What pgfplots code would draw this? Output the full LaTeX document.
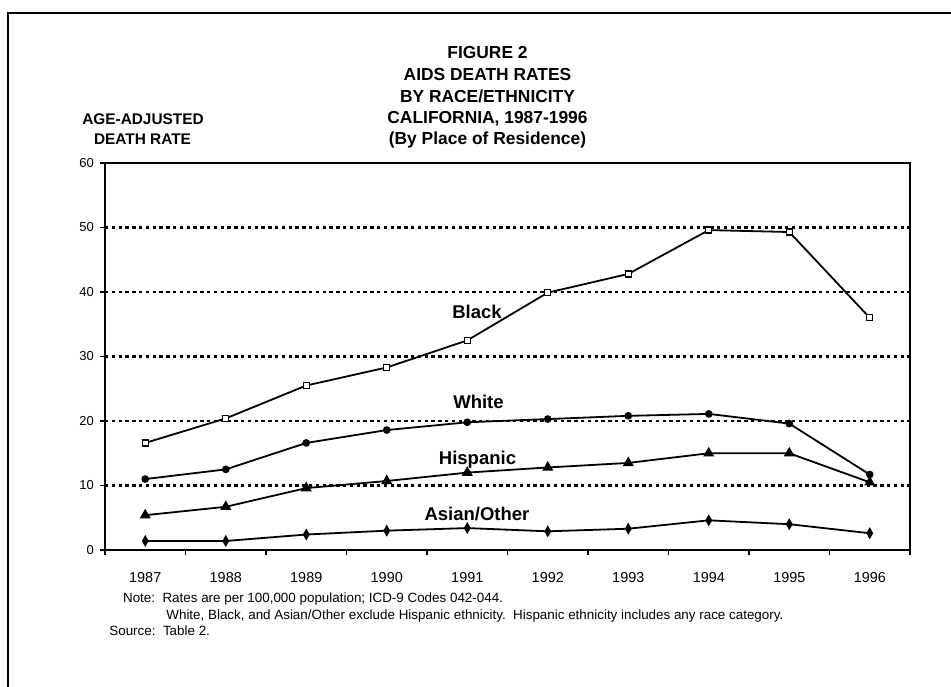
\documentclass[border=0pt]{standalone}
\usepackage{pgfplots}
\pgfplotsset{compat=1.18}
\usepackage{fontspec}
\setmainfont{Liberation Sans}

% age-adjusted AIDS death rates, 1987-1996 (index 0 = 1987)
\pgfplotstableread{
x black white hisp asian
0 16.6 11.0  5.4 1.4
1 20.4 12.5  6.7 1.4
2 25.5 16.6  9.6 2.4
3 28.3 18.6 10.7 3.0
4 32.5 19.8 12.0 3.4
5 39.9 20.3 12.8 2.9
6 42.8 20.8 13.5 3.3
7 49.6 21.1 15.0 4.6
8 49.3 19.6 15.0 4.0
9 36.0 11.7 10.5 2.6
}\rates

\begin{document}
\begin{tikzpicture}[x=1bp,y=1bp]
\useasboundingbox (0,0) rectangle (475.5,343);
% page frame
\draw[line width=1.2bp] (3.9,-2) -- (3.9,336.6) -- (480,336.6);

\begin{axis}[
  at={(52.5bp,68bp)}, anchor=south west,
  scale only axis,
  width=402.5bp, height=193.5bp,
  xmin=-0.5, xmax=9.5,
  ymin=0, ymax=60,
  ytick={0,10,...,60},
  xtick={0,...,9},
  xticklabels={1987,1988,1989,1990,1991,1992,1993,1994,1995,1996},
  minor xtick={-0.5,0.5,...,9.5},
  xtick pos=bottom, ytick pos=left,
  tick align=outside,
  major tick length=2.5bp,
  minor tick length=2.5bp,
  major x tick style={draw=none},
  tick style={black, line width=0.8bp},
  axis line style={line width=1bp},
  ymajorgrids=true,
  grid style={black, line width=1.2bp, dash pattern=on 1.7bp off 1.7bp},
  /pgf/number format/assume math mode=true,
  yticklabel style={font=\fontsize{6.5bp}{8bp}\selectfont, xshift=0.4bp},
  xticklabel style={font=\fontsize{7.2bp}{8bp}\selectfont, yshift=-5bp},
  clip=false,
]
\addplot[black, line width=0.9bp, mark=square*, mark size=1.5bp,
  mark options={fill=white, draw=black, line width=0.6bp}]
  table[x=x, y=black] {\rates};
\addplot[black, line width=0.9bp, mark=*, mark size=1.45bp,
  mark options={fill=black}]
  table[x=x, y=white] {\rates};
\addplot[black, line width=0.9bp, mark=triangle*, mark size=2.3bp,
  mark options={fill=black}]
  table[x=x, y=hisp] {\rates};
\addplot[black, line width=0.9bp, mark=diamond*, mark size=2.1bp,
  mark options={fill=black, xscale=0.75}]
  table[x=x, y=asian] {\rates};
\end{axis}

% series labels
\begin{scope}[every node/.style={anchor=base, inner sep=0pt, font=\fontsize{9.25bp}{11bp}\selectfont\bfseries}]
\node at (238.5,184) {Black};
\node at (239.25,139) {White};
\node at (238.75,111) {Hispanic};
\node at (238.5,83) {Asian/Other};
\end{scope}

% title
\begin{scope}[every node/.style={anchor=base, inner sep=0pt, font=\fontsize{8.7bp}{10bp}\selectfont\bfseries}]
\node at (243.75,314) {FIGURE 2};
\node at (243.75,303) {AIDS DEATH RATES};
\node at (243.75,292) {BY RACE/ETHNICITY};
\node at (243.75,281.5) {CALIFORNIA, 1987-1996};
\node at (243.75,271) {(By Place of Residence)};
\end{scope}

% y axis title
\begin{scope}[every node/.style={anchor=base, inner sep=0pt, font=\fontsize{7.7bp}{9bp}\selectfont\bfseries}]
\node at (71.5,281) {AGE-ADJUSTED};
\node at (71.25,271) {DEATH RATE};
\end{scope}

% notes
\begin{scope}[every node/.style={anchor=base west, inner sep=0pt, font=\fontsize{6.7bp}{8bp}\selectfont}]
\node at (61.35,41.65) {Note:\ \ Rates are per 100,000 population; ICD-9 Codes 042-044.};
\node at (83,33.5) {White, Black, and Asian/Other exclude Hispanic ethnicity.\ \ Hispanic ethnicity includes any race category.};
\node at (54.5,25.5) {Source:\ \ Table 2.};
\end{scope}
\end{tikzpicture}
\end{document}
